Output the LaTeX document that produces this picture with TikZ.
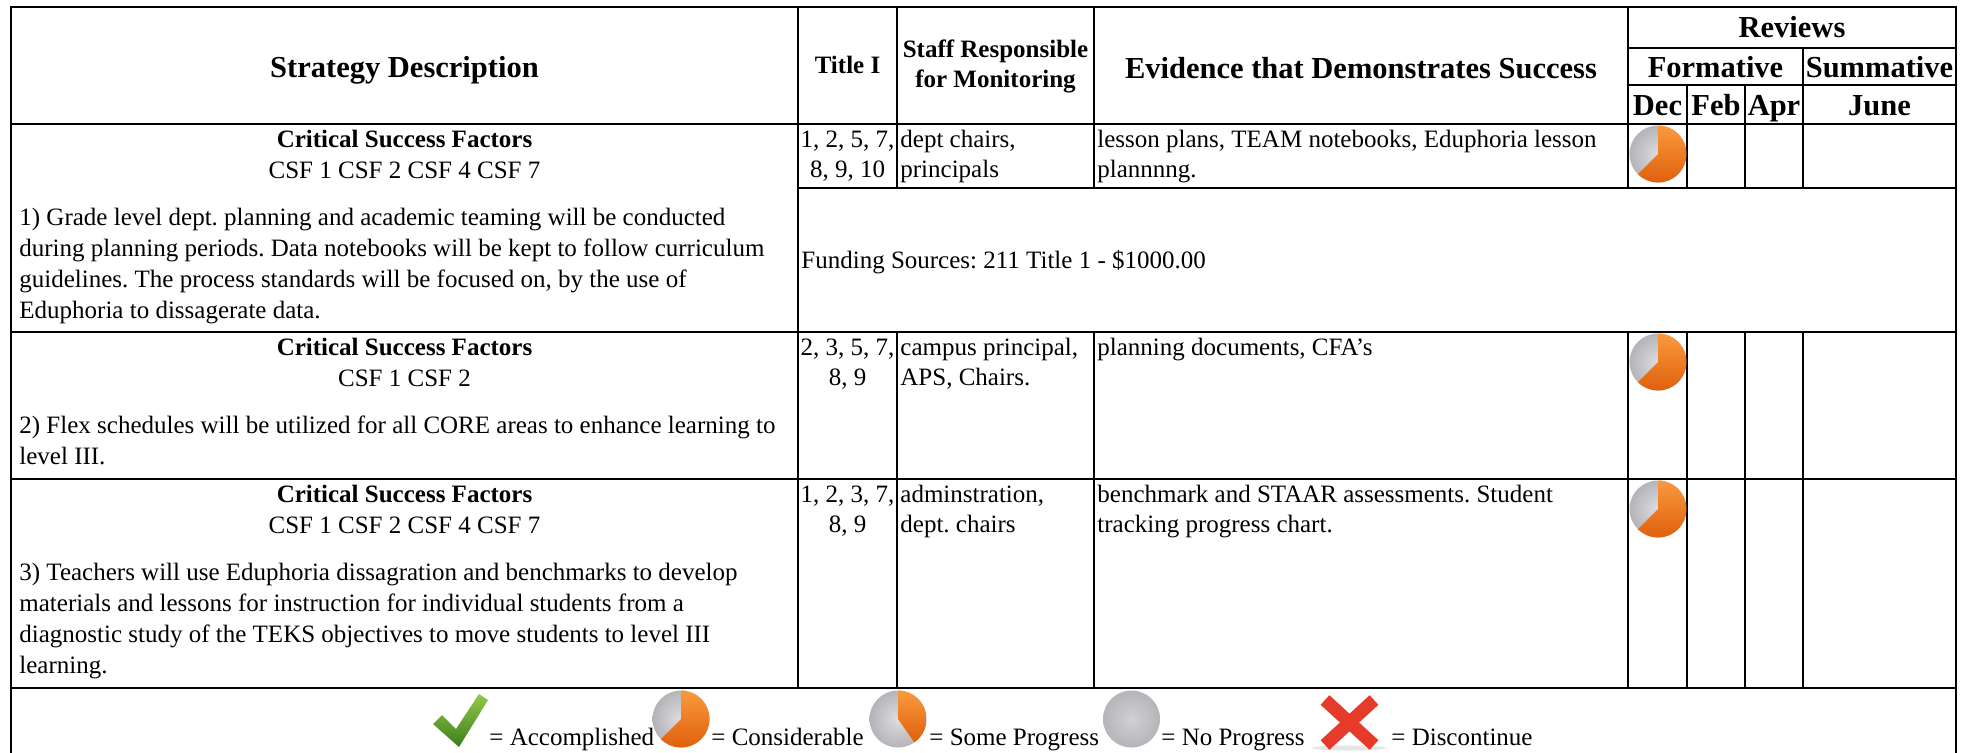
\documentclass[tikz,border=0pt]{standalone}
\usepackage{fontspec}
\setmainfont{Liberation Serif}
\newcommand\bodyf{\fontsize{12.5}{15.5}\selectfont}
\definecolor{orA}{HTML}{F99A3E}
\definecolor{orB}{HTML}{E0600C}
\definecolor{pgin}{HTML}{DEDEE1}
\definecolor{pgout}{HTML}{B4B4B9}
\definecolor{ckA}{HTML}{92C94A}
\definecolor{ckB}{HTML}{3E7D1B}
\definecolor{xred}{HTML}{E63B2B}
\begin{document}
\frenchspacing
\begin{tikzpicture}[x=0.5pt,y=-0.5pt,
  grid/.style={line width=1pt, draw=black, line cap=rect},
  body/.style={font=\bodyf, inner sep=0pt},
  bodyb/.style={font=\bodyf\bfseries, inner sep=0pt},
  hb/.style={font=\fontsize{15.25}{18}\selectfont\bfseries, inner sep=0pt},
  hs/.style={font=\fontsize{12.5}{14}\selectfont\bfseries, inner sep=0pt},
  pics/pie/.style={code={
    \shade[inner color=pgin, outer color=pgout] (0,0) circle (28.5);
    \shade[top color=orA, bottom color=orB] (0,0) -- (0,-28.5)
      arc[start angle=-90, end angle=#1, radius=28.5] -- cycle;
  }}]
\useasboundingbox (0,0) rectangle (1971,752);
\fill[white] (0,0) rectangle (1971,752);

% ---------- grid ----------
\draw[grid] (11,7) -- (1956,7);
\draw[grid] (1628,48) -- (1956,48);
\draw[grid] (1628,85) -- (1956,85);
\draw[grid] (11,124) -- (1956,124);
\draw[grid] (798,188) -- (1956,188);
\draw[grid] (11,332) -- (1956,332);
\draw[grid] (11,479) -- (1956,479);
\draw[grid] (11,688) -- (1956,688);
\draw[grid] (11,7) -- (11,752);
\draw[grid] (1956,7) -- (1956,752);
\draw[grid] (798,7) -- (798,688);
\foreach \cx in {897,1094,1628} {
  \draw[grid] (\cx,7) -- (\cx,188);
  \draw[grid] (\cx,332) -- (\cx,688);
}
\foreach \cx in {1687,1745} {
  \draw[grid] (\cx,85) -- (\cx,188);
  \draw[grid] (\cx,332) -- (\cx,688);
}
\draw[grid] (1803,48) -- (1803,188);
\draw[grid] (1803,332) -- (1803,688);

% ---------- header ----------
\node[hb, anchor=base] (hstrat) at (404.5,77) {Strategy Description};
\node[hs, anchor=base] (htitle) at (847.5,73) {Title I};
\node[hs, anchor=base] (hstaffa) at (995.5,57) {Staff Responsible};
\node[hs, anchor=base] (hstaffb) at (995.5,87) {for Monitoring};
\node[hb, anchor=base] (hevid) at (1361,78) {Evidence that Demonstrates Success};
\node[hb, anchor=base] (hrev) at (1792,37) {Reviews};
\node[hb, anchor=base] (hform) at (1715.5,77) {Formative};
\node[hb, anchor=base] (hsumm) at (1879.5,77) {Summative};
\node[hb, anchor=base] (hdec) at (1657.5,115) {Dec};
\node[hb, anchor=base] (hfeb) at (1716,115) {Feb};
\node[hb, anchor=base] (hapr) at (1774,115) {Apr};
\node[hb, anchor=base] (hjune) at (1879.5,115) {June};

% ---------- row 1 ----------
\node[bodyb, anchor=base] (acsf) at (404.5,147) {Critical Success Factors};
\node[body, anchor=base] (acsfl) at (404.5,178) {CSF 1 CSF 2 CSF 4 CSF 7};
\node[body, anchor=base west] (aa) at (19,225) {1) Grade level dept. planning and academic teaming will be conducted};
\node[body, anchor=base west] (ab) at (19,256) {during planning periods. Data notebooks will be kept to follow curriculum};
\node[body, anchor=base west] (ac) at (19,287) {guidelines. The process standards will be focused on, by the use of};
\node[body, anchor=base west] (ad) at (19,318) {Eduphoria to dissagerate data.};
\node[body, anchor=base] (atia) at (847.5,147) {1, 2, 5, 7,};
\node[body, anchor=base] (atib) at (847.5,177) {8, 9, 10};
\node[body, anchor=base west] (asta) at (900,147) {dept chairs,};
\node[body, anchor=base west] (astb) at (900,177) {principals};
\node[body, anchor=base west] (aeva) at (1097,147) {lesson plans, TEAM notebooks, Eduphoria lesson};
\node[body, anchor=base west] (aevb) at (1097,177) {plannnng.};
\node[body, anchor=base west] (afund) at (801,268) {Funding Sources: 211 Title 1 - \$1000.00};
\pic at (1658,154) {pie=135};

% ---------- row 2 ----------
\node[bodyb, anchor=base] (bcsf) at (404.5,355) {Critical Success Factors};
\node[body, anchor=base] (bcsfl) at (404.5,386) {CSF 1 CSF 2};
\node[body, anchor=base west] (ba) at (19,433) {2) Flex schedules will be utilized for all CORE areas to enhance learning to};
\node[body, anchor=base west] (bb) at (19,464) {level III.};
\node[body, anchor=base] (btia) at (847.5,355) {2, 3, 5, 7,};
\node[body, anchor=base] (btib) at (847.5,385) {8, 9};
\node[body, anchor=base west] (bsta) at (900,355) {campus principal,};
\node[body, anchor=base west] (bstb) at (900,385) {APS, Chairs.};
\node[body, anchor=base west] (beva) at (1097,355) {planning documents, CFA's};
\pic at (1658,362) {pie=135};

% ---------- row 3 ----------
\node[bodyb, anchor=base] (ccsf) at (404.5,502) {Critical Success Factors};
\node[body, anchor=base] (ccsfl) at (404.5,533) {CSF 1 CSF 2 CSF 4 CSF 7};
\node[body, anchor=base west] (ca) at (19,580) {3) Teachers will use Eduphoria dissagration and benchmarks to develop};
\node[body, anchor=base west] (cb) at (19,611) {materials and lessons for instruction for individual students from a};
\node[body, anchor=base west] (cc) at (19,642) {diagnostic study of the TEKS objectives to move students to level III};
\node[body, anchor=base west] (cd) at (19,673) {learning.};
\node[body, anchor=base] (ctia) at (847.5,502) {1, 2, 3, 7,};
\node[body, anchor=base] (ctib) at (847.5,532) {8, 9};
\node[body, anchor=base west] (csta) at (900,502) {adminstration,};
\node[body, anchor=base west] (cstb) at (900,532) {dept. chairs};
\node[body, anchor=base west] (ceva) at (1097,502) {benchmark and STAAR assessments. Student};
\node[body, anchor=base west] (cevb) at (1097,532) {tracking progress chart.};
\pic at (1658,509) {pie=135};

% ---------- legend ----------
\shade[top color=ckA, bottom color=ckB]
  (433,724) -- (442,715) -- (456,729) -- (479,694) -- (488,700) -- (459,747) -- cycle;
\node[body, anchor=base west] (lacc) at (489,745) {= Accomplished};
\pic at (681,719) {pie=135};
\node[body, anchor=base west] (lcon) at (711,745) {= Considerable};
\pic at (898,719) {pie=55};
\node[body, anchor=base west] (lsome) at (929,745) {= Some Progress};
\shade[inner color=pgin!70!pgout, outer color=pgout] (1131.5,719) circle (28.5);
\node[body, anchor=base west] (lno) at (1161,745) {= No Progress};
\fill[black!10] (1349,748) ellipse[x radius=37, y radius=2.5];
\draw[xred, line width=6.5pt] (1325,700) -- (1374,745);
\draw[xred, line width=6.5pt] (1374,700) -- (1325,745);
\node[body, anchor=base west] (ldis) at (1391,745) {= Discontinue};
\end{tikzpicture}
\end{document}
